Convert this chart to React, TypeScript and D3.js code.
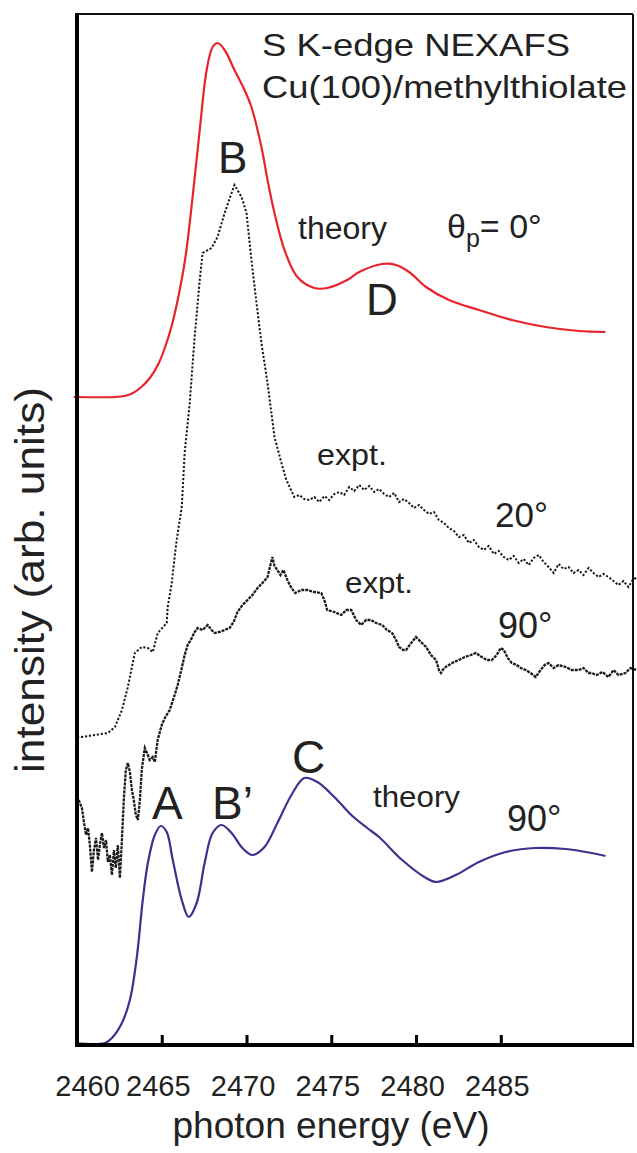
import React, { useEffect, useRef } from 'react';
import * as d3 from 'd3';

// ---- data (photon energy eV, intensity arb. units) ----
const energyTicks = [2460, 2465, 2470, 2475, 2480, 2485];
const energyDomain: [number, number] = [2460, 2492.8];
const intensityDomain: [number, number] = [0, 1030];

const theory0: [number, number][] = [
  [2459.8, 646], [2462.3, 646], [2462.8, 647], [2463.3, 650], [2463.8, 656], [2464.3, 665],
  [2464.8, 679], [2465.2, 696], [2465.6, 718], [2466.0, 748], [2466.4, 786], [2466.82, 846],
  [2467.24, 913], [2467.65, 973], [2468.0, 996], [2468.29, 1000], [2468.71, 993], [2469.29, 973],
  [2469.88, 953], [2470.29, 936], [2470.88, 896], [2471.24, 863], [2471.65, 830], [2472.24, 793],
  [2473.0, 766], [2474.0, 755], [2474.76, 755], [2475.94, 763], [2476.65, 771], [2478.0, 779],
  [2478.82, 778], [2479.59, 771], [2480.59, 756], [2481.94, 743], [2483.71, 733], [2485.65, 723],
  [2487.65, 716], [2489.59, 712], [2491.18, 711],
];

const theory90: [number, number][] = [
  [2459.88, 0], [2461.65, 0], [2462.06, 5], [2462.65, 20], [2463.12, 43], [2463.53, 86],
  [2463.88, 143], [2464.18, 180], [2464.59, 208], [2464.94, 217], [2465.29, 211], [2465.65, 183],
  [2466.18, 143], [2466.59, 126], [2467.06, 140], [2467.53, 180], [2468.0, 210], [2468.53, 218],
  [2469.12, 210], [2469.76, 195], [2470.35, 188], [2471.06, 196], [2471.82, 220], [2472.65, 248],
  [2473.41, 265], [2474.18, 261], [2475.18, 246], [2476.18, 228], [2477.12, 215], [2477.82, 206],
  [2479.18, 183], [2480.59, 165], [2481.18, 161], [2482.35, 168], [2483.71, 181], [2485.29, 191],
  [2487.06, 195], [2488.82, 194], [2490.35, 190], [2491.18, 187],
];

const expt20: [number, number][] = [
  [2460.0, 306], [2460.29, 306], [2461.06, 308], [2461.82, 310], [2462.24, 316], [2462.65, 333], [2463.0, 356],
  [2463.41, 390], [2463.82, 396], [2464.18, 395], [2464.47, 391], [2464.76, 410], [2465.29, 420],
  [2465.35, 436], [2465.59, 460], [2465.76, 486], [2465.88, 503], [2466.18, 536], [2466.35, 590],
  [2466.65, 640], [2466.94, 706], [2467.24, 763], [2467.41, 790], [2467.94, 795], [2468.29, 806],
  [2468.71, 830], [2469.12, 850], [2469.29, 858], [2469.71, 846], [2470.0, 830], [2470.29, 783],
  [2470.59, 740], [2470.88, 700], [2471.24, 660], [2471.65, 606], [2472.06, 580], [2472.35, 563],
  [2472.82, 546], [2473.12, 548], [2473.41, 544], [2473.71, 543], [2474.0, 546], [2474.29, 541],
  [2474.59, 547], [2474.88, 543], [2475.18, 549], [2475.47, 551], [2475.76, 548], [2476.06, 556],
  [2476.35, 552], [2476.65, 558], [2476.94, 553], [2477.24, 557], [2477.53, 551], [2477.82, 554],
  [2478.12, 549], [2478.41, 546], [2478.71, 550], [2479.0, 541], [2479.29, 544], [2479.59, 540],
  [2479.88, 535], [2480.18, 538], [2480.47, 533], [2480.76, 529], [2481.06, 531], [2481.35, 523],
  [2481.65, 520], [2481.94, 515], [2482.24, 512], [2482.53, 506], [2482.82, 508], [2483.12, 500],
  [2483.41, 503], [2483.71, 496], [2484.0, 493], [2484.29, 497], [2484.59, 489], [2484.88, 492],
  [2485.18, 486], [2485.47, 483], [2485.76, 487], [2486.06, 480], [2486.35, 484], [2486.65, 478],
  [2486.94, 485], [2487.24, 488], [2487.53, 481], [2487.82, 476], [2488.12, 470], [2488.41, 479],
  [2488.71, 474], [2489.0, 476], [2489.29, 470], [2489.59, 473], [2489.88, 468], [2490.18, 475],
  [2490.47, 470], [2490.76, 466], [2491.06, 469], [2491.35, 466], [2491.65, 462], [2491.94, 458],
  [2492.24, 462], [2492.53, 456], [2492.82, 464], [2493.0, 465],
];

const expt90: [number, number][] = [
  [2460.1, 243], [2460.29, 235], [2460.41, 221], [2460.53, 208], [2460.65, 215], [2460.76, 198],
  [2460.88, 171], [2461.0, 193], [2461.12, 205], [2461.24, 183], [2461.35, 198], [2461.47, 210],
  [2461.59, 195], [2461.71, 203], [2461.82, 181], [2461.94, 188], [2462.06, 168], [2462.18, 193],
  [2462.29, 175], [2462.41, 198], [2462.53, 165], [2462.65, 203], [2462.76, 243], [2462.88, 273],
  [2463.0, 280], [2463.12, 271], [2463.24, 253], [2463.35, 243], [2463.47, 228], [2463.59, 223],
  [2463.71, 243], [2463.82, 273], [2464.0, 295], [2464.18, 288], [2464.29, 283], [2464.47, 286],
  [2464.59, 281], [2464.76, 303], [2465.0, 318], [2465.18, 325], [2465.47, 333], [2465.76, 348],
  [2465.94, 358], [2466.18, 375], [2466.35, 388], [2466.53, 398], [2466.71, 403], [2466.94, 411],
  [2467.12, 415], [2467.41, 413], [2467.71, 418], [2467.94, 413], [2468.12, 410], [2468.41, 411],
  [2468.71, 413], [2469.0, 415], [2469.24, 421], [2469.47, 431], [2469.76, 438], [2470.06, 443],
  [2470.35, 448], [2470.65, 455], [2470.94, 460], [2471.24, 466], [2471.41, 478], [2471.53, 486],
  [2471.65, 477], [2471.82, 473], [2472.0, 468], [2472.18, 473], [2472.41, 463], [2472.65, 455],
  [2472.88, 450], [2473.24, 453], [2473.59, 453], [2474.0, 451], [2474.41, 450], [2474.59, 443],
  [2474.76, 433], [2475.18, 431], [2475.59, 428], [2475.88, 433], [2476.18, 433], [2476.47, 423],
  [2476.76, 418], [2477.06, 423], [2477.35, 423], [2477.65, 420], [2478.0, 418], [2478.29, 413],
  [2478.59, 410], [2478.82, 403], [2479.0, 396], [2479.24, 393], [2479.41, 393], [2479.71, 400],
  [2480.0, 406], [2480.29, 401], [2480.59, 396], [2480.88, 388], [2481.18, 383], [2481.35, 373],
  [2481.47, 370], [2481.65, 375], [2481.94, 378], [2482.24, 381], [2482.53, 383], [2482.88, 386],
  [2483.24, 388], [2483.53, 390], [2483.88, 386], [2484.18, 383], [2484.47, 383], [2484.76, 388],
  [2485.0, 395], [2485.18, 393], [2485.41, 385], [2485.65, 380], [2485.94, 378], [2486.18, 375],
  [2486.47, 373], [2486.76, 370], [2487.06, 366], [2487.35, 373], [2487.59, 378], [2487.82, 380],
  [2488.12, 375], [2488.41, 378], [2488.82, 376], [2489.18, 373], [2489.59, 373], [2489.88, 375],
  [2490.18, 370], [2490.35, 370], [2490.65, 368], [2491.0, 371], [2491.35, 366], [2491.65, 373],
  [2491.94, 368], [2492.35, 370], [2492.65, 375], [2493.0, 373],
];

const W = 637;
const H = 1153;
const FONT = '"Liberation Sans", Arial, Helvetica, sans-serif';
const INK = '#222';

export default function App() {
  const ref = useRef<SVGSVGElement>(null);

  useEffect(() => {
    const svg = d3.select(ref.current);
    svg.selectAll('*').remove();

    const X0 = 77, X1 = 633, YT = 14, YB = 1045;
    const x = d3.scaleLinear().domain(energyDomain).range([X0, X1]);
    const y = d3.scaleLinear().domain(intensityDomain).range([1043, 13]);
    const smooth = d3.line<[number, number]>().x(d => x(d[0])).y(d => y(d[1])).curve(d3.curveCatmullRom.alpha(0.5));
    const raw = d3.line<[number, number]>().x(d => x(d[0])).y(d => y(d[1]));

    svg.append('rect').attr('width', W).attr('height', H).attr('fill', '#fff');

    // curves
    svg.append('path').attr('d', smooth(theory0)).attr('fill', 'none').attr('stroke', '#e8232b').attr('stroke-width', 2.2);
    svg.append('path').attr('d', raw(expt20)).attr('fill', 'none').attr('stroke', '#1a1a1a').attr('stroke-width', 2).attr('stroke-dasharray', '2.2 1.8');
    svg.append('path').attr('d', raw(expt90)).attr('fill', 'none').attr('stroke', '#1a1a1a').attr('stroke-width', 2.3).attr('stroke-dasharray', '3 1');
    svg.append('path').attr('d', smooth(theory90)).attr('fill', 'none').attr('stroke', '#3f2f8e').attr('stroke-width', 2.2);

    // frame
    const frame = svg.append('g');
    frame.append('line').attr('x1', X0).attr('x2', X1).attr('y1', YT).attr('y2', YT).attr('stroke', '#111').attr('stroke-width', 2);
    frame.append('line').attr('x1', X1).attr('x2', X1).attr('y1', YT).attr('y2', YB).attr('stroke', '#111').attr('stroke-width', 2);
    frame.append('line').attr('x1', X0).attr('x2', X0).attr('y1', YT - 1).attr('y2', YB + 2).attr('stroke', '#000').attr('stroke-width', 4);

    // bottom axis
    const axis = d3.axisBottom(x).tickValues(energyTicks).tickSize(-10).tickPadding(0).tickFormat(d3.format('d'));
    const ag = svg.append('g').attr('transform', `translate(0,${YB})`).call(axis as any);
    ag.select('.domain').attr('stroke', '#000').attr('stroke-width', 4).attr('d', `M${X0 - 2},0H${X1 + 1}`);
    ag.selectAll('.tick line').attr('stroke', '#000').attr('stroke-width', 3)
      .attr('display', (d: any) => (d === energyDomain[0] ? 'none' : null));
    ag.selectAll('.tick text')
      .attr('font-size', 29).attr('font-family', FONT).attr('fill', INK)
      .attr('y', 51).attr('dy', 0)
      .attr('dx', (d: any) => (d === energyDomain[0] ? 10 : -4));

    const txt = (s: string, tx: number, ty: number, size: number, len?: number, anchor = 'start') => {
      const t = svg.append('text').attr('x', tx).attr('y', ty).attr('font-size', size)
        .attr('font-family', FONT).attr('fill', INK).attr('text-anchor', anchor).text(s);
      if (len) t.attr('textLength', len).attr('lengthAdjust', 'spacingAndGlyphs');
      return t;
    };

    txt('photon energy (eV)', 331, 1138, 36, 317, 'middle');
    svg.append('text').attr('transform', 'translate(44,580) rotate(-90)').attr('text-anchor', 'middle')
      .attr('font-size', 40).attr('font-family', FONT).attr('fill', INK)
      .attr('textLength', 386).attr('lengthAdjust', 'spacingAndGlyphs').text('intensity (arb. units)');

    txt('S K-edge NEXAFS', 262, 56, 32, 308);
    txt('Cu(100)/methylthiolate', 262, 98, 32, 365);
    txt('B', 218, 173, 44);
    txt('theory', 298, 239, 31, 89);
    const th = svg.append('text').attr('x', 447).attr('y', 238).attr('font-size', 34).attr('font-family', FONT).attr('fill', INK);
    th.append('tspan').text('θ');
    th.append('tspan').attr('dy', 9).attr('font-size', 25).text('p');
    th.append('tspan').attr('dy', -9).text('= 0°');
    txt('D', 366, 315, 44);
    txt('expt.', 317, 465, 30, 70);
    txt('20°', 495, 527, 35);
    txt('expt.', 345, 593, 30, 68);
    txt('90°', 498, 638, 36);
    txt('A', 152, 819, 46);
    txt('B’', 212, 819, 46);
    txt('C', 292, 773, 46);
    txt('theory', 373, 807, 30, 87);
    txt('90°', 507, 831, 36);
  }, []);

  return (
    <svg ref={ref} width={W} height={H} viewBox={`0 0 ${W} ${H}`}
      style={{ position: 'absolute', left: 0, top: 0, display: 'block' }} />
  );
}
